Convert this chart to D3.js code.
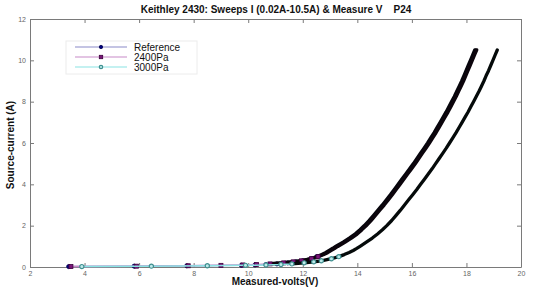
<!DOCTYPE html>
<html lang="en">
<head>
    <meta charset="UTF-8">
    <title>Keithley 2430 sweep</title>
    <script src="https://cdn.jsdelivr.net/npm/d3@7"></script>
    <style>
        body { margin: 0; background: #fff; }
        svg { font-family: Arial, "Liberation Sans", sans-serif; }
    </style>
</head>
<body>
    <script>
        // sweep currents (A), shared by all three runs
        var currents = [0.02, 0.04, 0.06, 0.08, 0.10, 0.12, 0.15, 0.20, 0.25, 0.30, 0.40, 0.50, 0.60, 0.70, 0.80, 0.90,
            1.00, 1.20, 1.40, 1.60, 1.80, 2.00, 2.25, 2.50, 2.75, 3.00, 3.25, 3.50, 3.75, 4.00, 4.25, 4.50, 4.75,
            5.00, 5.25, 5.50, 5.75, 6.00, 6.25, 6.50, 6.75, 7.00, 7.25, 7.50, 7.75, 8.00, 8.25, 8.50, 8.75,
            9.00, 9.25, 9.50, 9.75, 10.00, 10.25, 10.50];

        // measured volts (V)
        var voltsReference = [3.42, 5.82, 7.75, 9.75, 10.25, 10.65, 11.05, 11.45, 11.75, 12.00, 12.30, 12.52, 12.70, 12.85, 12.97, 13.10,
            13.22, 13.48, 13.72, 13.93, 14.10, 14.26, 14.44, 14.60, 14.76, 14.92, 15.07, 15.22, 15.36, 15.50, 15.64, 15.78, 15.92,
            16.06, 16.19, 16.32, 16.45, 16.58, 16.70, 16.82, 16.93, 17.04, 17.15, 17.26, 17.36, 17.46, 17.56, 17.65, 17.74,
            17.83, 17.91, 17.99, 18.07, 18.15, 18.23, 18.31];
        var volts2400 = [3.50, 5.90, 7.80, 9.00, 9.80, 10.30, 10.80, 11.30, 11.65, 11.95, 12.32, 12.56, 12.75, 12.91, 13.03, 13.16,
            13.28, 13.54, 13.78, 13.99, 14.16, 14.32, 14.50, 14.66, 14.82, 14.98, 15.13, 15.28, 15.42, 15.56, 15.70, 15.84, 15.98,
            16.12, 16.25, 16.38, 16.51, 16.64, 16.76, 16.88, 16.99, 17.10, 17.21, 17.32, 17.42, 17.52, 17.62, 17.71, 17.80,
            17.89, 17.97, 18.05, 18.13, 18.21, 18.29, 18.37];
        var volts3000 = [3.90, 6.45, 8.50, 9.90, 10.65, 11.20, 11.60, 12.05, 12.40, 12.68, 13.05, 13.32, 13.52, 13.70, 13.85, 13.98,
            14.10, 14.33, 14.55, 14.74, 14.92, 15.08, 15.26, 15.42, 15.58, 15.73, 15.88, 16.03, 16.18, 16.32, 16.46, 16.60, 16.74,
            16.87, 17.00, 17.13, 17.26, 17.38, 17.50, 17.62, 17.73, 17.84, 17.95, 18.06, 18.16, 18.26, 18.36, 18.46, 18.55,
            18.64, 18.72, 18.81, 18.89, 18.97, 19.05, 19.13];

        var seriesNames = ["Reference", "2400Pa", "3000Pa"];
        var xTicks = [2, 4, 6, 8, 10, 12, 14, 16, 18, 20];
        var yTicks = [0, 2, 4, 6, 8, 10, 12];

        var w = 535, h = 288;
        var svg = d3.select("body").append("svg")
            .attr("width", w)
            .attr("height", h);

        var x = d3.scaleLinear().domain([2, 20]).range([30, 521]);
        var y = d3.scaleLinear().domain([0, 12]).range([267, 19]);

        var axisColor = "#7a7a7a";

        // axes: ticks inside, box around the plot
        var gx = svg.append("g").attr("transform", "translate(0,267)")
            .call(d3.axisBottom(x).tickValues(xTicks).tickSizeInner(-4).tickSizeOuter(0).tickPadding(4));
        var gxt = svg.append("g").attr("transform", "translate(0,19)")
            .call(d3.axisTop(x).tickValues(xTicks).tickSizeInner(-4).tickSizeOuter(0).tickFormat(""));
        var gy = svg.append("g").attr("transform", "translate(30,0)")
            .call(d3.axisLeft(y).tickValues(yTicks).tickSizeInner(-4).tickSizeOuter(0).tickPadding(4));
        var gyr = svg.append("g").attr("transform", "translate(521,0)")
            .call(d3.axisRight(y).tickValues(yTicks).tickSizeInner(-4).tickSizeOuter(0).tickFormat(""));

        [gx, gxt, gy, gyr].forEach(function (g) {
            g.selectAll("path, line").attr("stroke", axisColor);
            g.selectAll("text").attr("fill", "#666").style("font-size", "7px")
                .style("font-family", "Arial, 'Liberation Sans', sans-serif");
        });

        var series = [
            { name: seriesNames[0], volts: voltsReference, line: "#8a8ac8", edge: "#000050", fill: "#000080", band: "#05050c", width: 3.6, shape: "dot" },
            { name: seriesNames[1], volts: volts2400, line: "#c88ac8", edge: "#3c003c", fill: "#7a157a", band: "#0c050c", width: 3.6, shape: "square" },
            { name: seriesNames[2], volts: volts3000, line: "#8ae4e4", edge: "#0d3f3f", fill: "#3f8f8f", band: "#050a0a", width: 3.3, shape: "circle" }
        ];

        var line = d3.line()
            .x(function (d) { return x(d[0]); })
            .y(function (d) { return y(d[1]); });

        function drawMarker(g, s, size) {
            if (s.shape === "square") {
                g.append("rect").attr("x", -size).attr("y", -size)
                    .attr("width", size * 2).attr("height", size * 2)
                    .attr("fill", s.fill).attr("stroke", s.edge).attr("stroke-width", 0.8);
            } else if (s.shape === "dot") {
                g.append("circle").attr("r", size)
                    .attr("fill", s.fill).attr("stroke", s.edge).attr("stroke-width", 0.8);
            } else {
                g.append("circle").attr("r", size)
                    .attr("fill", "#bfeaea").attr("stroke", s.fill).attr("stroke-width", 1.2);
            }
        }

        series.forEach(function (s) {
            var pts = s.volts.map(function (v, i) { return [v, currents[i]]; });
            var g = svg.append("g");
            // thin connecting line
            g.append("path")
                .attr("d", line(pts))
                .attr("fill", "none")
                .attr("stroke", s.line)
                .attr("stroke-width", 1.5);
            // where the sweep points crowd together the markers merge into a dark band
            var dense = pts.filter(function (d) { return d[1] >= 0.15; });
            g.append("path")
                .attr("d", line(dense))
                .attr("fill", "none")
                .attr("stroke", s.band)
                .attr("stroke-width", s.width)
                .attr("stroke-linecap", "round")
                .attr("stroke-linejoin", "round");
            // individual markers only visible at the low end
            g.selectAll("g.mk")
                .data(pts.filter(function (d) { return d[1] <= 0.5; }))
                .enter()
                .append("g")
                .attr("class", "mk")
                .attr("transform", function (d) { return "translate(" + x(d[0]) + "," + y(d[1]) + ")"; })
                .each(function () { drawMarker(d3.select(this), s, s.shape === "square" ? 2 : 2.1); });
        });

        // legend
        var lg = svg.append("g");
        lg.append("rect")
            .attr("x", 66).attr("y", 41).attr("width", 131).attr("height", 33)
            .attr("fill", "#fff").attr("stroke", "#ececec");
        series.forEach(function (s, i) {
            var ly = 47 + i * 10;
            lg.append("line")
                .attr("x1", 75).attr("x2", 127).attr("y1", ly).attr("y2", ly)
                .attr("stroke", s.line).attr("stroke-width", 1.2);
            var mk = lg.append("g").attr("transform", "translate(101," + ly + ")");
            drawMarker(mk, s, 1.7);
            lg.append("text")
                .attr("x", 134).attr("y", ly + 3.5)
                .style("font-size", "10px")
                .attr("fill", "#111")
                .text(s.name);
        });

        // titles
        svg.append("text")
            .attr("x", 276).attr("y", 13)
            .attr("text-anchor", "middle")
            .style("font-size", "10px").style("font-weight", "bold")
            .attr("fill", "#111")
            .attr("xml:space", "preserve")
            .text("Keithley 2430: Sweeps I (0.02A-10.5A) & Measure V    P24");

        svg.append("text")
            .attr("x", 275).attr("y", 285)
            .attr("text-anchor", "middle")
            .style("font-size", "10px").style("font-weight", "bold")
            .attr("fill", "#111")
            .text("Measured-volts(V)");

        svg.append("text")
            .attr("transform", "translate(14,145) rotate(-90)")
            .attr("text-anchor", "middle")
            .style("font-size", "10px").style("font-weight", "bold")
            .attr("fill", "#111")
            .text("Source-current (A)");
    </script>
</body>
</html>
